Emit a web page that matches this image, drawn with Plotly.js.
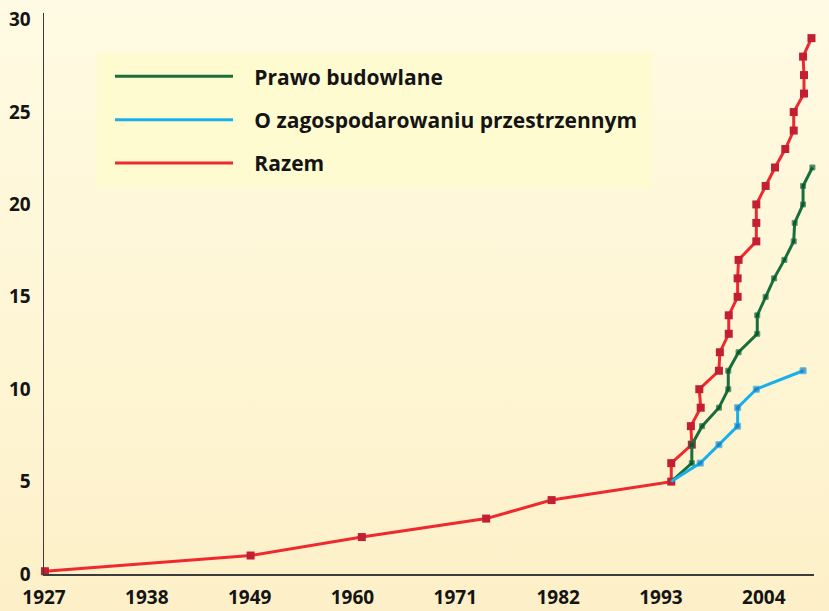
<!DOCTYPE html>
<html>
<head>
<meta charset="utf-8">
<script src="https://cdn.plot.ly/plotly-3.0.1.min.js"></script>
<style>
  html, body { margin: 0; padding: 0; }
  #chart { width: 829px; height: 611px; background: linear-gradient(to bottom, #fffae3 0%, #fef6d6 50%, #fdf0c8 100%); }
</style>
</head>
<body>
<div id="chart"></div>
<script>
// ---- data ----
const razemYears = [1927.1, 1949.1, 1961.0, 1974.3, 1981.3, 1994.1, 1994.1, 1996.3, 1996.2, 1997.25, 1997.1, 1999.2, 1999.3, 2000.25, 2000.25, 2001.2, 2001.2, 2001.3, 2003.2, 2003.2, 2003.2, 2004.2, 2005.2, 2006.3, 2007.2, 2007.2, 2008.3, 2008.3, 2008.2, 2009.1];
const razemValues = [0.15, 1, 2, 3, 4, 5, 6, 7, 8, 9, 10, 11, 12, 13, 14, 15, 16, 17, 18, 19, 20, 21, 22, 23, 24, 25, 26, 27, 28, 29];

const prawoYears = [1994.1, 1996.3, 1996.3, 1997.4, 1999.2, 2000.2, 2000.2, 2001.3, 2003.3, 2003.3, 2004.2, 2005.1, 2006.2, 2007.2, 2007.3, 2008.2, 2008.2, 2009.2];
const prawoValues = [5, 6, 7, 8, 9, 10, 11, 12, 13, 14, 15, 16, 17, 18, 19, 20, 21, 22];

const zagospYears = [1994.1, 1997.2, 1999.2, 2001.2, 2001.2, 2003.2, 2008.2];
const zagospValues = [5, 6, 7, 8, 9, 10, 11];

const xTickYears = [1927, 1938, 1949, 1960, 1971, 1982, 1993, 2004];
const yTickValues = [0, 5, 10, 15, 20, 25, 30];

const seriesNames = ['Prawo budowlane', 'O zagospodarowaniu przestrzennym', 'Razem'];

// ---- styles ----
const RED_LINE = '#ee2a2e', RED_MARK = '#c21f33';
const GREEN_LINE = '#1a6e3c', GREEN_MARK = '#00502a';
const BLUE_LINE = '#18b0ec', BLUE_MARK = '#1a74c0';
const FONT = 'Open Sans, Noto Sans, DejaVu Sans, sans-serif';
const PAD = '\u00a0\u00a0\u00a0';
// the sub-series start from the shared "Razem" point, which carries no own marker
const noFirstMarker = (arr, s) => arr.map((v, i) => (i === 0 ? 0 : s));

const traces = [
  { x: razemYears, y: razemValues, mode: 'lines+markers', showlegend: false, cliponaxis: false,
    line: { color: RED_LINE, width: 3 }, marker: { symbol: 'square', size: 8, color: RED_MARK } },
  { x: prawoYears, y: prawoValues, mode: 'lines+markers', showlegend: false, cliponaxis: false,
    line: { color: GREEN_LINE, width: 3 }, marker: { symbol: 'square', size: noFirstMarker(prawoValues, 5), color: GREEN_MARK } },
  { x: zagospYears, y: zagospValues, mode: 'lines+markers', showlegend: false, cliponaxis: false,
    line: { color: BLUE_LINE, width: 3 }, marker: { symbol: 'square', size: noFirstMarker(zagospValues, 6), color: BLUE_MARK } },
  // legend entries (lines only, as in the reference)
  { x: [null], y: [null], mode: 'lines', name: PAD + seriesNames[0], legendgroup: 'a', line: { color: GREEN_LINE, width: 3 } },
  { x: [null], y: [null], mode: 'lines', name: PAD + seriesNames[1], legendgroup: 'b', line: { color: BLUE_LINE, width: 3 } },
  { x: [null], y: [null], mode: 'lines', name: PAD + seriesNames[2], legendgroup: 'c', line: { color: RED_LINE, width: 3 } }
];

const layout = {
  width: 829, height: 611,
  margin: { l: 44, r: 15, t: 13, b: 37, pad: 0 },
  paper_bgcolor: 'rgba(0,0,0,0)',
  plot_bgcolor: 'rgba(0,0,0,0)',
  font: { family: FONT, color: '#141414' },
  showlegend: true,
  xaxis: {
    range: [1927, 2009.37], tickvals: xTickYears, ticktext: xTickYears.map(String),
    showgrid: false, zeroline: false, showline: true, linecolor: '#3c3c3c', linewidth: 1.5,
    ticks: '', ticklabelstandoff: 6,
    tickfont: { family: FONT, size: 19, weight: 700, color: '#141414' }, fixedrange: true
  },
  yaxis: {
    range: [0, 30.36], tickvals: yTickValues, ticktext: yTickValues.map(String),
    showgrid: false, zeroline: false, showline: true, linecolor: '#3c3c3c', linewidth: 1.5,
    ticks: '', ticklabelstandoff: 8,
    tickfont: { family: FONT, size: 19, weight: 700, color: '#141414' }, fixedrange: true
  },
  legend: {
    x: 0.0857, y: 0.923, xanchor: 'left', yanchor: 'top',
    bgcolor: 'rgba(0,0,0,0)', borderwidth: 0,
    font: { family: FONT, size: 21, weight: 700, color: '#141414' },
    itemwidth: 118, tracegroupgap: 13, traceorder: 'grouped'
  },
  shapes: [
    { type: 'rect', xref: 'paper', yref: 'paper', x0: 0.0688, x1: 0.7896, y0: 0.6879, y1: 0.930,
      fillcolor: '#fffbd1', line: { width: 0 }, layer: 'below' }
  ]
};

Plotly.newPlot('chart', traces, layout, { displayModeBar: false, staticPlot: true });
</script>
</body>
</html>
